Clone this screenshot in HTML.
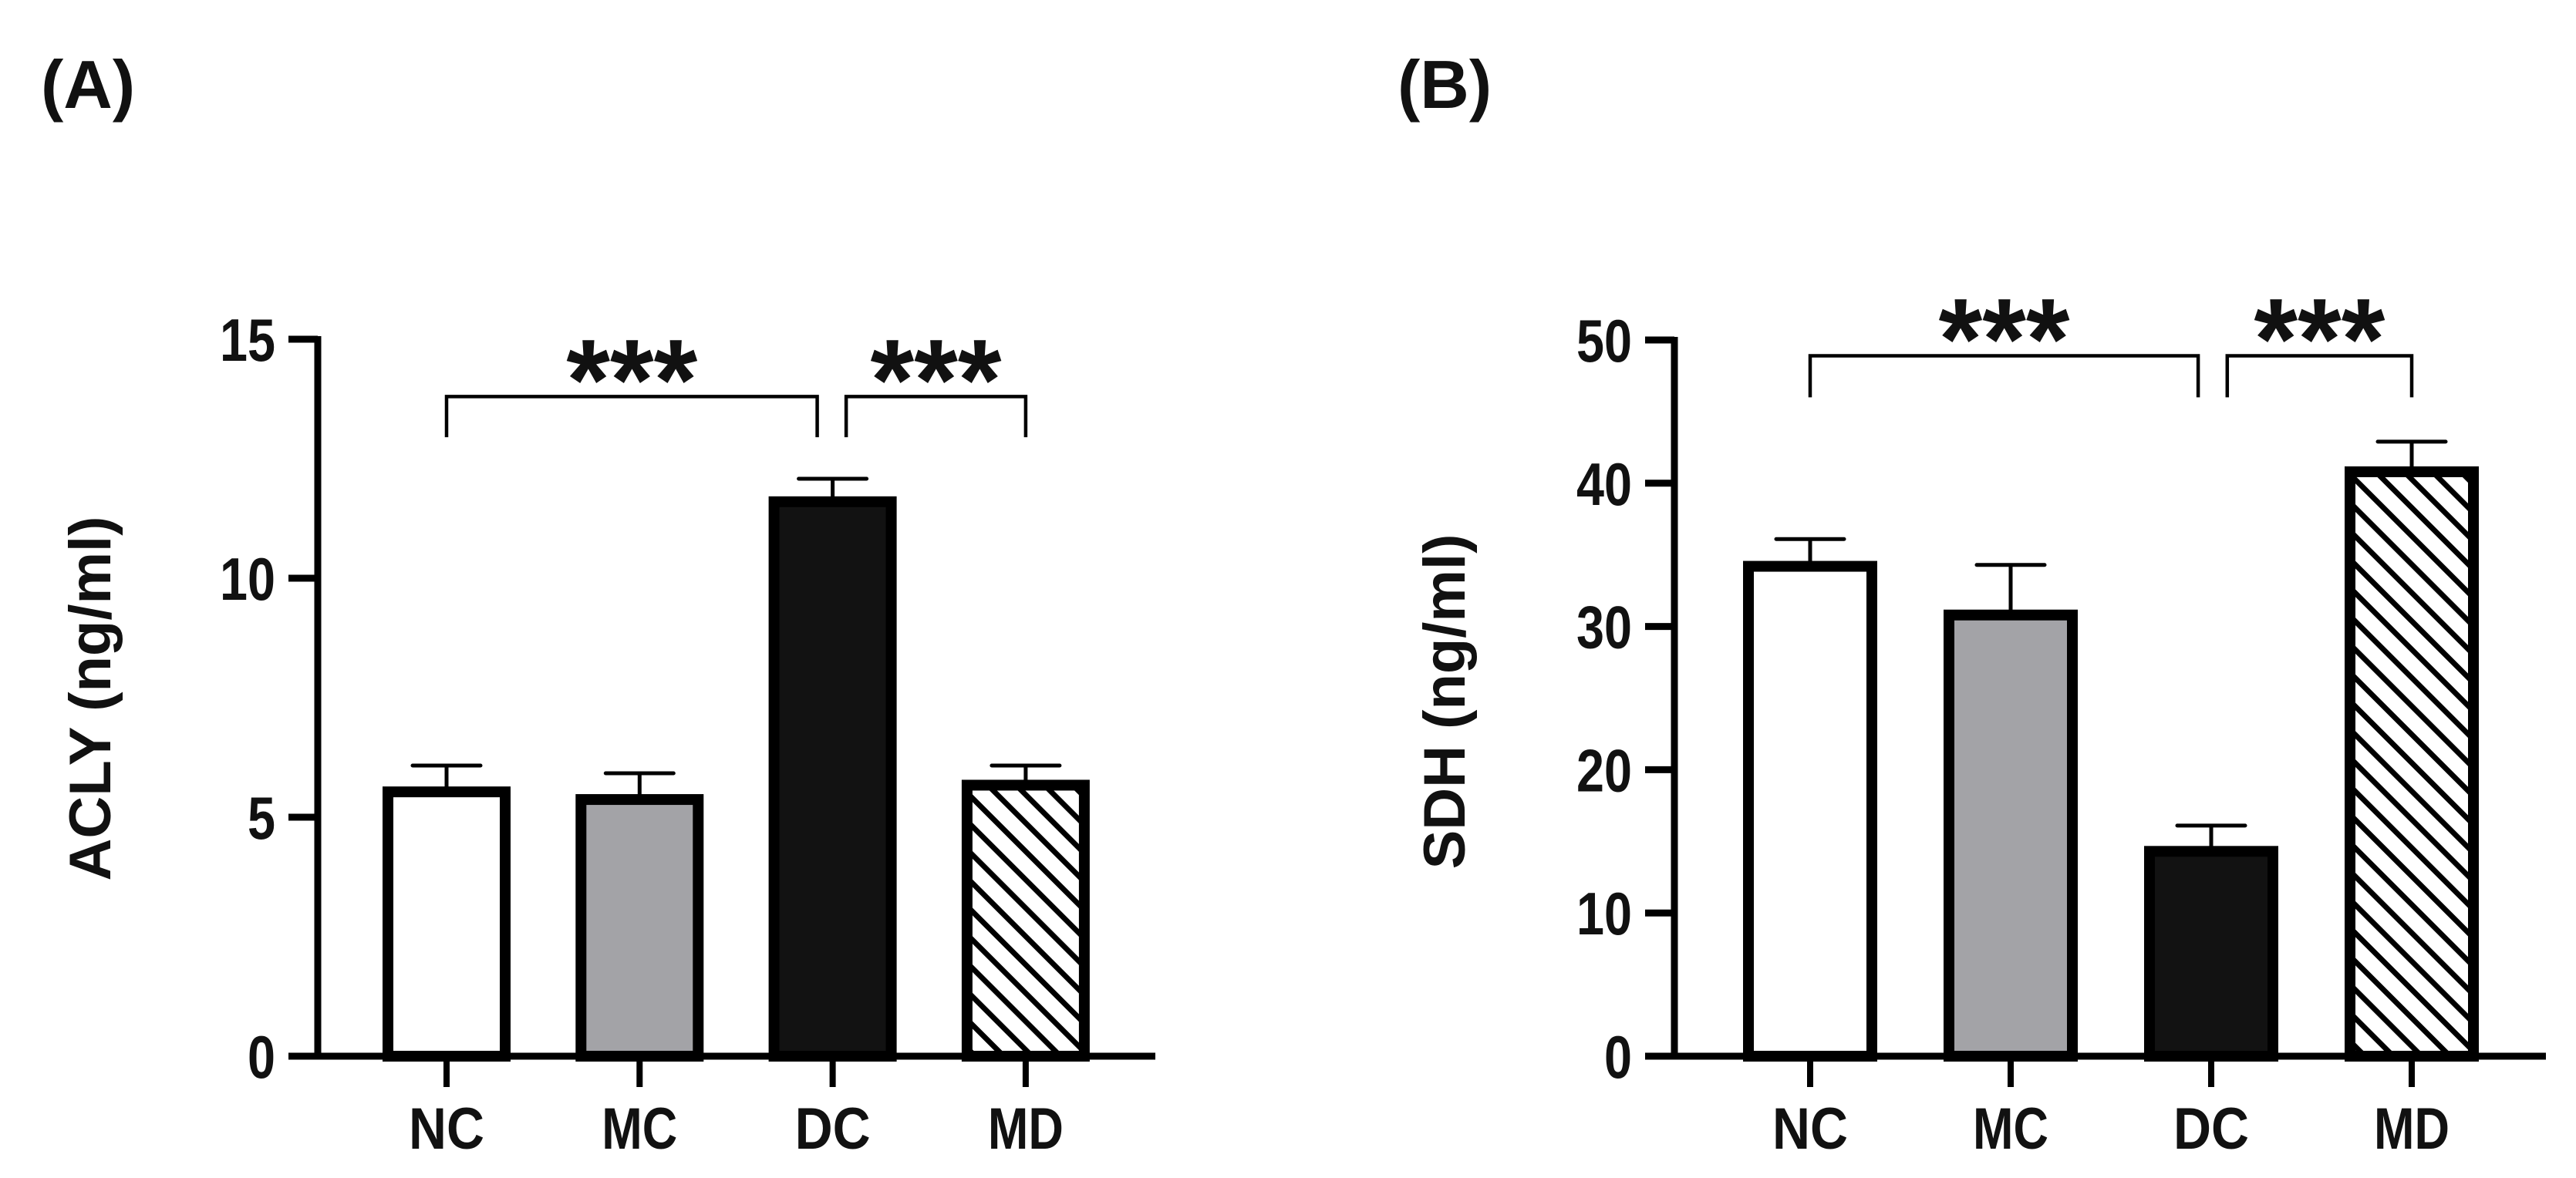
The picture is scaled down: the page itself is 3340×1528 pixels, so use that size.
<!DOCTYPE html>
<html><head><meta charset="utf-8"><style>
html,body{margin:0;padding:0;background:#fff}
svg{display:block}
text{font-family:"Liberation Sans",sans-serif;font-weight:bold;fill:#111}
</style></head><body>
<svg id="fig" width="3340" height="1528" viewBox="0 0 3340 1528" xmlns="http://www.w3.org/2000/svg">
<defs>
<pattern id="hatch" patternUnits="userSpaceOnUse" width="26" height="26" patternTransform="rotate(-45)">
<rect x="0" y="0" width="26" height="26" fill="#fff"/>
<rect x="0" y="0" width="7" height="26" fill="#000"/>
</pattern>
</defs>
<text x="53" y="140" font-size="88">(A)</text>
<text x="1812" y="140" font-size="88">(B)</text>
</svg>
<script>
const categories = ["NC","MC","DC","MD"];
const aValues = [5.53, 5.37, 11.6, 5.67];
const aErrors = [6.08, 5.92, 12.08, 6.08];
const aTicks = [0, 5, 10, 15];
const aSig = [[0, 1.92, 13.8, 12.95], [2.07, 3, 13.8, 12.95]];
const bValues = [34.2, 30.8, 14.3, 40.8];
const bErrors = [36.1, 34.3, 16.1, 42.9];
const bTicks = [0, 10, 20, 30, 40, 50];
const bSig = [[0, 1.935, 48.9, 46.0], [2.08, 3, 48.9, 46.0]];
const fills = ["#ffffff", "#a3a3a7", "#121212", "url(#hatch)"];

const NS = "http://www.w3.org/2000/svg";
const svg = document.getElementById("fig");
function mk(tag, attrs, parent) {
  const e = document.createElementNS(NS, tag);
  for (const k in attrs) e.setAttribute(k, attrs[k]);
  (parent || svg).appendChild(e);
  return e;
}

function panel(cfg) {
  const g = mk("g", {});
  
  
  const ymax = cfg.ticks[cfg.ticks.length - 1];
  const Y = v => cfg.y0 - (v / ymax) * (cfg.y0 - cfg.yTop);
  const X = i => cfg.x0 + i * cfg.step;
  const Xf = f => cfg.x0 + f * cfg.step;
  cfg.values.forEach((v, i) => {
    const xc = X(i), yt = Y(v), yb = cfg.y0;
    const r = mk("rect", {x: xc - cfg.bw / 2 + 7, y: yt, width: cfg.bw - 14, height: yb - yt, fill: fills[i], stroke: "#000", "stroke-width": 14});
    
    
    g.appendChild(r);
    const ye = Y(cfg.errors[i]);
    const l = mk("path", {d: `M${xc},${yt - 7}V${ye}M${xc - 44},${ye}H${xc + 44}`, stroke: "#000", "stroke-width": 5, "stroke-linecap": "round", fill: "none"}, g);
    
    
    const t = mk("text", {x: xc, y: 1490, "font-size": 76, "text-anchor": "middle", textLength: 98, lengthAdjust: "spacingAndGlyphs"}, g);
    t.textContent = categories[i];
    
    
    const tk = mk("line", {x1: xc, x2: xc, y1: cfg.y0, y2: 1410, stroke: "#000", "stroke-width": 8}, g);
    
    
  });
  const ax = mk("path", {d: `M${cfg.axX},${cfg.y0}V${cfg.yTop - 4}M${cfg.axX - 38},${cfg.y0}H${cfg.xEnd}`, stroke: "#000", "stroke-width": 9, fill: "none"}, g);
  
  
  cfg.ticks.forEach(tv => {
    const y = Y(tv);
    const l = mk("line", {x1: cfg.axX - 38, x2: cfg.axX, y1: y, y2: y, stroke: "#000", "stroke-width": 9}, g);
    
    
    const t = mk("text", {x: cfg.axX - 55, y: y + 28, "font-size": 78, "text-anchor": "end", textLength: String(tv).length * 36, lengthAdjust: "spacingAndGlyphs"}, g);
    t.textContent = tv;
    
    
  });
  cfg.sig.forEach(s => {
    const xa = Xf(s[0]), xb = Xf(s[1]), yh = Y(s[2]), yl = Y(s[3]);
    const p = mk("path", {d: `M${xa},${yl}V${yh}H${xb}V${yl}`, stroke: "#000", "stroke-width": 4.5, fill: "none"}, g);
    
    
    const t = mk("text", {x: (xa + xb) / 2, y: yh + 30, "font-size": 150, "text-anchor": "middle", textLength: 170, lengthAdjust: "spacingAndGlyphs"}, g);
    t.textContent = "***";
    
    
  });
  const yl = mk("text", {x: 0, y: 0, "font-size": 76, "text-anchor": "middle", transform: `translate(${cfg.labX},${cfg.labY}) rotate(-90)`}, g);
  yl.textContent = cfg.ylabel;
  
  
}

panel({name: "panel-a-chart", values: aValues, errors: aErrors, ticks: aTicks, sig: aSig,
  axX: 412, y0: 1370, yTop: 440, x0: 579, step: 250.3, bw: 166, xEnd: 1498,
  labX: 143, labY: 906, ylabel: "ACLY (ng/ml)"});
panel({name: "panel-b-chart", values: bValues, errors: bErrors, ticks: bTicks, sig: bSig,
  axX: 2171, y0: 1370, yTop: 441, x0: 2347, step: 260, bw: 174, xEnd: 3301,
  labX: 1899, labY: 910, ylabel: "SDH (ng/ml)"});
</script>
</body></html>
